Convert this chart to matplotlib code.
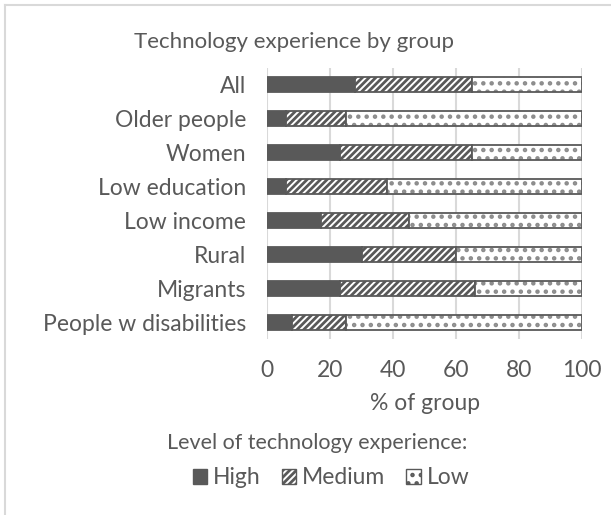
import matplotlib
matplotlib.use("Agg")
import matplotlib.pyplot as plt
from matplotlib.patches import Patch
from matplotlib.lines import Line2D
import numpy as np

plt.rcParams['font.family'] = ['Lato', 'DejaVu Sans']
plt.rcParams['hatch.linewidth'] = 2.0

groups = ["All", "Older people", "Women", "Low education", "Low income",
          "Rural", "Migrants", "People w disabilities"]
high = [28, 6, 23, 6, 17, 30, 23, 8]
medium = [37, 19, 42, 32, 28, 30, 43, 17]
low = [35, 75, 35, 62, 55, 40, 34, 75]
xticks = [0, 20, 40, 60, 80, 100]

TEXT = "#595959"
DARK = "#595959"
DOT = "#8c8c8c"
GRID = "#d9d9d9"
FS = 16.5

W, H = 611, 515
fig = plt.figure(figsize=(W / 100, H / 100), dpi=100)
ax = fig.add_axes([267 / W, 1 - 339 / H, (582.3 - 267) / W, (339 - 68) / H])

y = np.arange(len(groups))
h = 0.44
high_a = np.array(high)
med_a = np.array(medium)
low_a = np.array(low)

ax.barh(y, high_a, height=h, color=DARK, edgecolor=DARK, linewidth=1.3, zorder=3)
ax.barh(y, med_a, left=high_a, height=h, color="white", edgecolor=DARK,
        hatch="/////", linewidth=1.3, zorder=3)
# dotted fill in a lighter grey, then the dark outline on top
ax.barh(y, low_a, left=high_a + med_a, height=h, color="white", edgecolor=DOT,
        hatch="..", linewidth=0, zorder=3)
ax.barh(y, low_a, left=high_a + med_a, height=h, color="none", edgecolor=DARK,
        linewidth=1.3, zorder=4)

ax.set_xlim(0, 100)
ax.set_ylim(len(groups) - 0.5, -0.5)
ax.set_xticks(xticks)
ax.set_yticks(y)
ax.set_yticklabels(groups)
ax.tick_params(axis="both", length=0, colors=TEXT, labelsize=FS)
ax.tick_params(axis="x", pad=15)
ax.tick_params(axis="y", pad=15)
ax.grid(axis="x", color=GRID, linewidth=1.5, zorder=0)
for s in ax.spines.values():
    s.set_visible(False)

ax.set_xlabel("% of group", color=TEXT, fontsize=FS, labelpad=9)
fig.text(293.5 / W, 1 - 42 / H, "Technology experience by group",
         ha="center", va="center", color=TEXT, fontsize=16)

fig.text(317 / W, 1 - 443 / H, "Level of technology experience:",
         ha="center", va="center", color=TEXT, fontsize=15.5)
handles = [Patch(facecolor=DARK, edgecolor=DARK, label="High"),
           Patch(facecolor="white", edgecolor=DARK, hatch="/////", label="Medium"),
           Patch(facecolor="white", edgecolor=DARK, hatch="..", label="Low")]
leg = fig.legend(handles=handles, ncol=3, loc="center",
                 bbox_to_anchor=(331 / W, 1 - 478 / H), frameon=False,
                 fontsize=FS, handlelength=0.65, handleheight=0.65,
                 handletextpad=0.25, columnspacing=0.9, labelcolor=TEXT,
                 borderpad=0)

# chart area border (top and left edges)
fig.add_artist(Line2D([5 / W, 1], [1 - 5 / H, 1 - 5 / H], color=GRID, linewidth=1.5))
fig.add_artist(Line2D([5 / W, 5 / W], [0, 1 - 5 / H], color=GRID, linewidth=1.5))

fig.savefig("out.png", dpi=100)
